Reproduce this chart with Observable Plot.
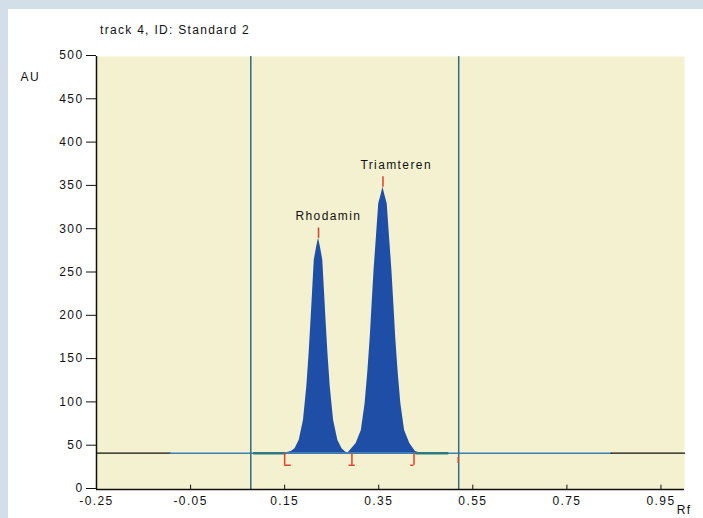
<!DOCTYPE html>
<html>
<head>
<meta charset="utf-8">
<script src="https://cdn.jsdelivr.net/npm/d3@7"></script>
<script src="https://cdn.jsdelivr.net/npm/@observablehq/plot@0.6"></script>
<style>
  html, body { margin: 0; padding: 0; background: #d2dfe8; }
  #wrap { position: relative; width: 703px; height: 518px; overflow: hidden; }
  #panel { position: absolute; left: 8px; top: 9px; width: 695px; height: 509px; background: #ffffff; }
  #title { position: absolute; left: 100px; top: 23px; font: 12px "Liberation Sans", Arial, sans-serif; letter-spacing: 1.3px; color: #111; }
  #chart { position: absolute; left: 0; top: 40px; }
  svg { font-family: "Liberation Sans", Arial, sans-serif; overflow: visible; }
  svg text { letter-spacing: 1.4px; }
</style>
</head>
<body>
<div id="wrap">
  <div id="panel"></div>
  <div id="title">track 4, ID: Standard 2</div>
  <div id="chart"></div>
</div>
<script>
// ---- data ----
const xTicks = [-0.25, -0.05, 0.15, 0.35, 0.55, 0.75, 0.95];
const yTicks = [0, 50, 100, 150, 200, 250, 300, 350, 400, 450, 500];
const baselineAU = 42;

const rhodaminRf = [0.150, 0.164, 0.172, 0.181, 0.190, 0.197, 0.202, 0.206, 0.210, 0.213, 0.218, 0.222, 0.226, 0.231, 0.234, 0.238, 0.242, 0.247, 0.254, 0.263, 0.272, 0.280, 0.290];
const rhodaminAU = [42, 44, 47, 57, 80, 118, 157, 195, 235, 265, 280, 290, 280, 265, 235, 195, 157, 118, 80, 57, 47, 43, 42];

const triamterenRf = [0.286, 0.302, 0.313, 0.321, 0.327, 0.332, 0.336, 0.340, 0.345, 0.350, 0.355, 0.359, 0.363, 0.368, 0.373, 0.378, 0.382, 0.386, 0.391, 0.397, 0.405, 0.416, 0.428, 0.440];
const triamterenAU = [43, 53, 68, 99, 137, 176, 215, 253, 291, 330, 340, 349, 340, 330, 291, 253, 215, 176, 137, 99, 68, 53, 44, 42];

const peakNames = ["Rhodamin", "Triamteren"];
const peakRf = [0.222, 0.359];
const peakTopAU = [290, 349];
const peakTickTopAU = [302, 361];
const peakLabelRf = [0.173, 0.311];
const peakLabelAU = [316, 374];

const trackBoundsRf = [0.078, 0.520];

// baseline pieces: black ends, blue middle
const baseBlackLeft = [-0.25, -0.093];
const baseBlue = [-0.093, 0.844];
const baseBlackRight = [0.844, 1.0];
const baseDark1 = [0.085, 0.150];
const baseDark2 = [0.430, 0.496];

// integration markers (red)
const markerRf = [0.150, 0.293, 0.425, 0.519];
const markerTopAU = [42, 42, 42, 37];
const markerBottomAU = [28, 28, 28, 30];
const markerTailFrom = [0.150, 0.287, 0.418];
const markerTailTo = [0.164, 0.300, 0.425];

// ---- build tables ----
const rhodamin = rhodaminRf.map((x, i) => ({x, y: rhodaminAU[i]}));
const triamteren = triamterenRf.map((x, i) => ({x, y: triamterenAU[i]}));
const peaks = peakNames.map((name, i) => ({name, x: peakRf[i], y1: peakTopAU[i], y2: peakTickTopAU[i], lx: peakLabelRf[i], ly: peakLabelAU[i]}));
const markers = markerRf.map((x, i) => ({x, y1: markerBottomAU[i], y2: markerTopAU[i]}));
const tails = markerTailFrom.map((x1, i) => ({x1, x2: markerTailTo[i], y: markerBottomAU[i]}));
const seg = (a) => [{x: a[0], y: baselineAU}, {x: a[1], y: baselineAU}];

const fill = "#1f4ea6";
const red = "#e0402a";
const chart = Plot.plot({
  width: 703,
  height: 478,
  marginLeft: 96,
  marginRight: 19,
  marginTop: 16,
  marginBottom: 29,
  style: {fontSize: "12px", color: "#111", background: "transparent", overflow: "visible"},
  x: {domain: [-0.25, 1.0], label: null},
  y: {domain: [0, 500], label: null},
  marks: [
    Plot.frame({fill: "#f3f1cf", stroke: null}),
    Plot.axisX(xTicks, {tickFormat: d => d.toFixed(2), tickSize: 0, tickPadding: 7, fontSize: 12}),
    Plot.axisY(yTicks, {tickSize: 10, tickPadding: 3, fontSize: 12, stroke: "#111", dy: -1}),
    Plot.ruleX(xTicks, {y1: 0, y2: 5, stroke: "#111", strokeWidth: 1}),
    Plot.areaY(rhodamin, {x: "x", y1: baselineAU, y2: "y", fill, curve: "linear"}),
    Plot.areaY(triamteren, {x: "x", y1: baselineAU, y2: "y", fill, curve: "linear"}),
    Plot.line(seg(baseBlackLeft), {x: "x", y: "y", stroke: "#111", strokeWidth: 1.3}),
    Plot.line(seg(baseBlue), {x: "x", y: "y", stroke: "#3d7fb8", strokeWidth: 1.5}),
    Plot.line(seg(baseBlackRight), {x: "x", y: "y", stroke: "#111", strokeWidth: 1.3}),
    Plot.line(seg(baseDark1), {x: "x", y: "y", stroke: "#2b7a80", strokeWidth: 2.5}),
    Plot.line(seg(baseDark2), {x: "x", y: "y", stroke: "#2b7a80", strokeWidth: 2.5}),
    Plot.ruleX(trackBoundsRf, {stroke: "#2e6f80", strokeWidth: 1.5}),
    Plot.ruleX(peaks, {x: "x", y1: "y1", y2: "y2", stroke: red, strokeWidth: 1.5}),
    Plot.ruleX(markers, {x: "x", y1: "y1", y2: "y2", stroke: red, strokeWidth: 1.5}),
    Plot.ruleY(tails, {x1: "x1", x2: "x2", y: "y", stroke: red, strokeWidth: 1.5}),
    Plot.text(peaks, {x: "lx", y: "ly", text: "name", fill: "#111", fontSize: 12, textAnchor: "start"}),
    Plot.ruleY([0], {stroke: "#111", strokeWidth: 1.5}),
    Plot.ruleX([-0.25], {stroke: "#111", strokeWidth: 1.5}),
    Plot.text(["AU"], {frameAnchor: "top-left", dx: -76, dy: 16, textAnchor: "start", fill: "#111", fontSize: 12}),
    Plot.text(["Rf"], {frameAnchor: "bottom-right", dx: 7, dy: 16, lineAnchor: "top", textAnchor: "end", fill: "#111", fontSize: 12})
  ]
});
document.getElementById("chart").appendChild(chart);
</script>
</body>
</html>
